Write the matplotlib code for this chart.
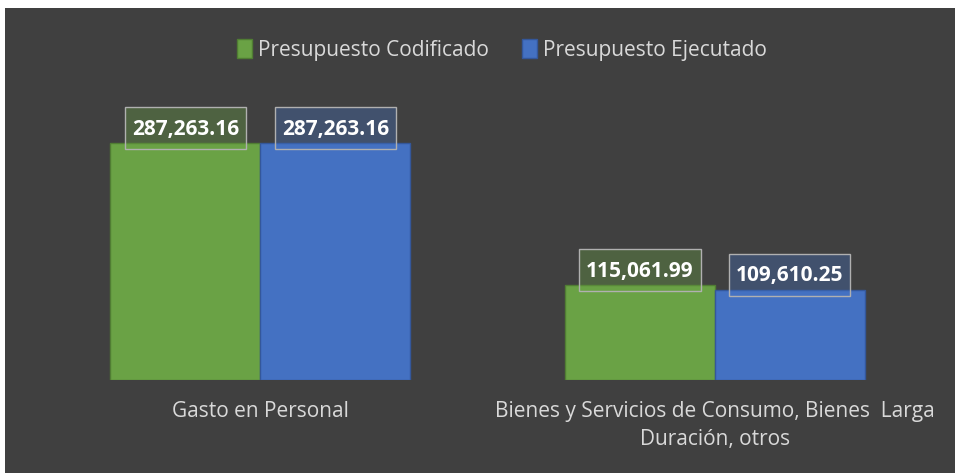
import matplotlib.pyplot as plt
import numpy as np
from matplotlib.patches import Rectangle, Patch
from matplotlib.transforms import IdentityTransform

# data
categories = ['Gasto en Personal',
              'Bienes y Servicios de Consumo, Bienes  Larga\nDuración, otros']
codificado = [287263.16, 115061.99]
ejecutado = [287263.16, 109610.25]
series_names = ['Presupuesto Codificado', 'Presupuesto Ejecutado']

green = '#6aa245'
blue = '#4471c2'
bg = '#404040'
txt = '#d9d9d9'

plt.rcParams['font.family'] = ['Open Sans', 'DejaVu Sans']

fig = plt.figure(figsize=(9.55, 4.73), dpi=100)
fig.patch.set_facecolor('white')
# dark chart area (small white margin top/left like the screenshot)
fig.patches.append(Rectangle((5 / 955, 0.0), 1.0, 1 - 8 / 473, transform=fig.transFigure,
                             facecolor=bg, edgecolor='none', zorder=-10))

ax = fig.add_axes([33 / 955, 93 / 473, 909 / 955, 280 / 473])
ax.set_facecolor('none')

x = np.arange(len(categories))
w = 0.33
b1 = ax.bar(x - w / 2, codificado, w, color=green, edgecolor='#507d33', linewidth=1, zorder=2)
b2 = ax.bar(x + w / 2, ejecutado, w, color=blue, edgecolor='#34579a', linewidth=1, zorder=2)

ax.set_xlim(-0.5, 1.5)
ax.set_ylim(0, 287263.16 * 280 / 237)

labels = []
for bars, vals, col in [(b1, codificado, green), (b2, ejecutado, blue)]:
    for bar, v in zip(bars, vals):
        t = ax.annotate(f'{v:,.2f}', (bar.get_x() + bar.get_width() / 2, bar.get_height()),
                        xytext=(0, 10), textcoords='offset points', ha='center', va='center',
                        color='white', fontsize=15, fontweight='bold', zorder=4)
        labels.append((t, col))

for s in ax.spines.values():
    s.set_visible(False)
ax.set_yticks([])
ax.set_xticks(x)
ax.set_xticklabels(categories, color=txt, fontsize=15, linespacing=1.45)
ax.tick_params(axis='x', length=0, pad=15)

handles = [Patch(facecolor=green, edgecolor='#507d33'), Patch(facecolor=blue, edgecolor='#34579a')]
fig.legend(handles, series_names, loc='center', bbox_to_anchor=(502 / 955, 1 - 50 / 473), ncol=2,
           frameon=False, fontsize=15, labelcolor=txt, handlelength=0.7, handleheight=1.0,
           handletextpad=0.3, columnspacing=1.6)

# label boxes: Excel-style, taller than the text
fig.canvas.draw()
r = fig.canvas.get_renderer()
for t, col in labels:
    bb = t.get_window_extent(r)
    cy = (bb.y0 + bb.y1) / 2 + 1
    ax.add_patch(Rectangle((bb.x0 - 7, cy - 21), bb.width + 14, 42, transform=IdentityTransform(),
                           facecolor=col, alpha=0.35, edgecolor='none', zorder=3, clip_on=False))
    ax.add_patch(Rectangle((bb.x0 - 7, cy - 21), bb.width + 14, 42, transform=IdentityTransform(),
                           facecolor='none', edgecolor='#b0b0b0', linewidth=1, zorder=3, clip_on=False))

fig.savefig('out.png', dpi=100, facecolor='white')
